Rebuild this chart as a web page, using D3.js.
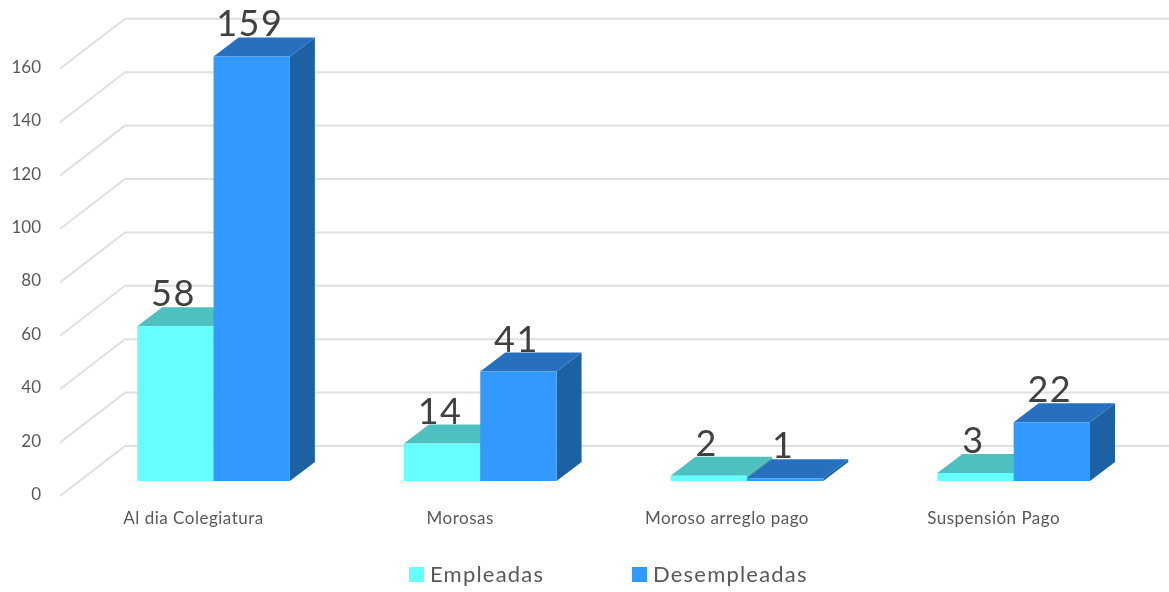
<!DOCTYPE html>
<html>
<head>
<meta charset="utf-8">
<script src="https://cdn.jsdelivr.net/npm/d3@7"></script>
<style>
  html, body { margin: 0; background: #fff; }
  svg { display: block; }
  text { font-family: Lato, "Open Sans", sans-serif; }
</style>
</head>
<body>
<svg id="chart" width="1169" height="592"></svg>
<script>
const categories = ["Al dia Colegiatura", "Morosas", "Moroso arreglo pago", "Suspensión Pago"];
const seriesNames = ["Empleadas", "Desempleadas"];
const empleadas = [58, 14, 2, 3];
const desempleadas = [159, 41, 1, 22];
const yTicks = [0, 20, 40, 60, 80, 100, 120, 140, 160];

const colors = {
  Empleadas: { front: "#66ffff", top: "#4dc0c0", side: "#45adad" },
  Desempleadas: { front: "#3399ff", top: "#2670bf", side: "#1f62a3" }
};

const depthX = 25, depthY = -19;   // the 3d offset of the bars

const svg = d3.select("#chart");
const root = svg.append("g").attr("filter", "url(#soft)");
svg.append("defs").append("filter").attr("id", "soft")
  .attr("x", 0).attr("y", 0).attr("width", 1).attr("height", 1)
  .attr("filterUnits", "objectBoundingBox")
  .append("feGaussianBlur").attr("stdDeviation", 0.4);

// white backing so the filter region covers the whole picture
root.append("rect").attr("width", 1169).attr("height", 592).attr("fill", "#fff");

const y = d3.scaleLinear().domain([0, 160]).range([481, 53.8]);
const x0 = d3.scaleBand().domain(categories).range([80.2, 1147]);
const x1 = d3.scaleBand().domain(seriesNames).range([0, x0.bandwidth()]).paddingOuter(0.747);

// walls: diagonal from the axis to the back, then flat along the back
root.append("g").selectAll("path")
  .data(yTicks)
  .enter().append("path")
  .attr("d", d => `M60,${y(d) + 15}L125,${y(d) - 35}H1169`)
  .attr("fill", "none")
  .attr("stroke", "#e0e0e0")
  .attr("stroke-width", 2);

const yAxis = root.append("g")
  .attr("transform", "translate(41,13)")
  .call(d3.axisLeft(y).tickValues(yTicks).tickSize(0).tickPadding(0));
yAxis.select(".domain").remove();
yAxis.selectAll("text").style("font-size", "17px").style("font-family", "Lato, sans-serif").attr("fill", "#595959");

const xAxis = root.append("g")
  .attr("transform", "translate(-20,512)")
  .call(d3.axisBottom(x0).tickSize(0).tickPadding(0));
xAxis.select(".domain").remove();
xAxis.selectAll("text").style("font-size", "17px").style("letter-spacing", "0.5px")
  .style("font-family", "Lato, sans-serif").attr("fill", "#595959");

const rows = [];
categories.forEach((c, i) => {
  rows.push({ cat: c, name: "Empleadas", value: empleadas[i] });
  rows.push({ cat: c, name: "Desempleadas", value: desempleadas[i] });
});

const bars = root.append("g").selectAll(".bar")
  .data(rows)
  .enter().append("g")
  .attr("class", "bar");

const left = d => x0(d.cat) + x1(d.name);
const right = d => left(d) + x1.bandwidth();

bars.append("path")  // side
  .attr("d", d => `M${right(d)},${y(0)}L${right(d) + depthX},${y(0) + depthY}V${y(d.value) + depthY}L${right(d)},${y(d.value)}Z`)
  .attr("fill", d => colors[d.name].side);
bars.append("path")  // top
  .attr("d", d => `M${left(d)},${y(d.value)}L${left(d) + depthX},${y(d.value) + depthY}H${right(d) + depthX}L${right(d)},${y(d.value)}Z`)
  .attr("fill", d => colors[d.name].top);
bars.append("rect")  // front
  .attr("x", left)
  .attr("y", d => y(d.value))
  .attr("width", x1.bandwidth())
  .attr("height", d => y(0) - y(d.value))
  .attr("fill", d => colors[d.name].front);

root.append("g").selectAll("text")
  .data(rows)
  .enter().append("text")
  .attr("x", d => left(d) + x1.bandwidth() / 2 - 2)
  .attr("y", d => y(d.value) + depthY - 1)
  .attr("text-anchor", "middle")
  .attr("font-size", 36)
  .attr("letter-spacing", 1.5)
  .attr("fill", "#404040")
  .text(d => d.value);

// legend
const legendX = d3.scaleOrdinal().domain(seriesNames).range([409, 632]);
const legend = root.append("g").selectAll("g")
  .data(seriesNames)
  .enter().append("g")
  .attr("transform", d => `translate(${legendX(d)},567)`);
legend.append("rect")
  .attr("width", 15).attr("height", 15)
  .attr("fill", d => colors[d].front);
legend.append("text")
  .attr("x", 21).attr("y", 15)
  .attr("font-size", 22)
  .attr("letter-spacing", 1.2)
  .attr("fill", "#595959")
  .text(d => d);
</script>
</body>
</html>
